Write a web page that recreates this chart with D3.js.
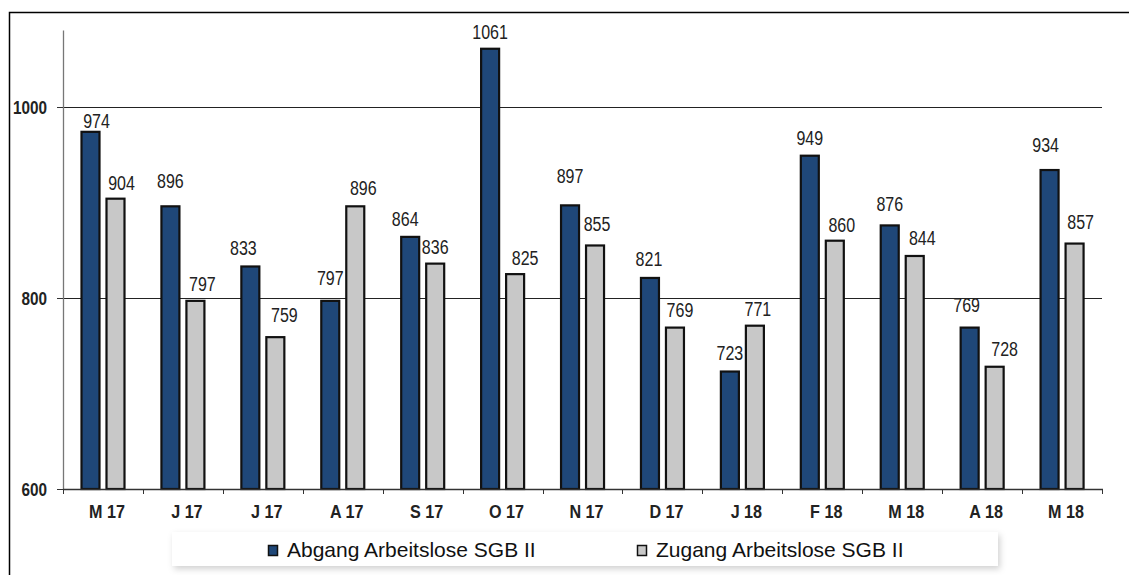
<!DOCTYPE html>
<html><head><meta charset="utf-8">
<script src="https://cdn.jsdelivr.net/npm/d3@7"></script>
<style>body{margin:0;background:#fff}svg{display:block}</style>
</head><body>
<script>
const categories = ["M 17","J 17","J 17","A 17","S 17","O 17","N 17","D 17","J 18","F 18","M 18","A 18","M 18"];
const abgang = [974,896,833,797,864,1061,897,821,723,949,876,769,934];
const zugang = [904,797,759,896,836,825,855,769,771,860,844,728,857];
const seriesNames = ["Abgang Arbeitslose SGB II","Zugang Arbeitslose SGB II"];
const yTicks = [600,800,1000];

// label placement nudges (as placed in the original chart)
const labelDxA = [6,0,-7,0,-5,0,0,-1,0,0,0,-3,-4];
const labelGapA = [3.5,18,11,16,11,10,22,11.5,12,11,14,16,18];
const labelDxZ = [6,7,9,8,0,10,2,5,3,7,7.5,10,6];
const labelGapZ = [9,10,15,11,10,9,14,10.5,10,9,11,11,15];

const W=1129,H=575;
const svg=d3.select("body").append("svg").attr("width",W).attr("height",H);
const defs=svg.append("defs");
const f=defs.append("filter").attr("id","sh").attr("x","-5%").attr("y","-50%").attr("width","110%").attr("height","250%");
f.append("feDropShadow").attr("dx",2).attr("dy",3).attr("stdDeviation",3).attr("flood-color","#000").attr("flood-opacity",0.18);

// frame
svg.append("path").attr("d","M9.5,575 V12.5 H1129").attr("fill","none").attr("stroke","#000").attr("stroke-width",1.5);

const y=d3.scaleLinear().domain([600,1080]).range([489,30.6]);
const x0=d3.scaleBand().domain(d3.range(categories.length)).range([63,1102]);
const x1=d3.scaleBand().domain([0,1]).range([17.5,62.5]).paddingInner(0.2);
const colors=["#1f4778","#c8c8c8"];

// gridlines
svg.append("g").selectAll("line").data(yTicks.filter(d=>d>600)).join("line")
 .attr("x1",58).attr("x2",1102).attr("y1",d=>Math.round(y(d))+0.5).attr("y2",d=>Math.round(y(d))+0.5)
 .attr("stroke","#222").attr("stroke-width",1);

// bars
const dx=[labelDxA,labelDxZ], gap=[labelGapA,labelGapZ];
const data=categories.map((c,i)=>({i,vals:[abgang[i],zugang[i]]}));
const g=svg.append("g").selectAll("g").data(data).join("g").attr("transform",d=>`translate(${x0(d.i)},0)`);
g.selectAll("rect").data(d=>d.vals.map((v,k)=>({v,k,i:d.i}))).join("rect")
 .attr("x",d=>x1(d.k)+1).attr("width",x1.bandwidth()-2)
 .attr("y",d=>y(d.v)).attr("height",d=>y(600)-y(d.v))
 .attr("fill",d=>colors[d.k]).attr("stroke","#111").attr("stroke-width",2.2);
g.selectAll("text").data(d=>d.vals.map((v,k)=>({v,k,i:d.i}))).join("text")
 .attr("transform",d=>`translate(${x1(d.k)+x1.bandwidth()/2+dx[d.k][d.i]},${y(d.v)-gap[d.k][d.i]}) scale(0.8,1)`)
 .attr("text-anchor","middle").attr("font-family","Liberation Sans, Arial, sans-serif")
 .attr("font-size",20).attr("fill","#222").text(d=>d.v);

// y axis
svg.append("line").attr("x1",63.5).attr("x2",63.5).attr("y1",y(1080)).attr("y2",489).attr("stroke","#777").attr("stroke-width",1.3);
const yt=svg.append("g").selectAll("g").data(yTicks).join("g").attr("transform",d=>`translate(0,${Math.round(y(d))+0.5})`);
yt.append("line").attr("x1",57).attr("x2",63).attr("stroke","#333");
yt.append("text").attr("transform","translate(47,6) scale(0.85,1)").attr("text-anchor","end")
 .attr("font-family","Liberation Sans, Arial, sans-serif").attr("font-weight","bold").attr("font-size",18).attr("fill","#222").text(d=>d);

// x axis
svg.append("line").attr("x1",63).attr("x2",1103).attr("y1",489.5).attr("y2",489.5).attr("stroke","#333").attr("stroke-width",1.3);
svg.append("g").selectAll("line").data(d3.range(categories.length+1)).join("line")
 .attr("x1",d=>Math.round(63+d*x0.step())+0.5).attr("x2",d=>Math.round(63+d*x0.step())+0.5)
 .attr("y1",489).attr("y2",494).attr("stroke","#333");
svg.append("g").selectAll("text").data(categories).join("text")
 .attr("transform",(d,i)=>`translate(${x0(i)+x0.bandwidth()/2+4},518) scale(0.85,1)`)
 .attr("text-anchor","middle").attr("font-family","Liberation Sans, Arial, sans-serif").attr("font-weight","bold")
 .attr("font-size",19).attr("fill","#222").text(d=>d);

// legend
svg.append("rect").attr("x",172).attr("y",532).attr("width",826).attr("height",34).attr("fill","#fff").attr("filter","url(#sh)");
const lx=[268,637];
const lg=svg.append("g").selectAll("g").data(seriesNames).join("g").attr("transform",(d,i)=>`translate(${lx[i]},0)`);
lg.append("rect").attr("x",0.5).attr("y",545.5).attr("width",9).attr("height",10).attr("fill",(d,i)=>colors[i]).attr("stroke","#111").attr("stroke-width",1.5);
lg.append("text").attr("x",19).attr("y",557).attr("font-family","Liberation Sans, Arial, sans-serif").attr("font-size",21).attr("fill","#111").text(d=>d);
</script>
</body></html>
